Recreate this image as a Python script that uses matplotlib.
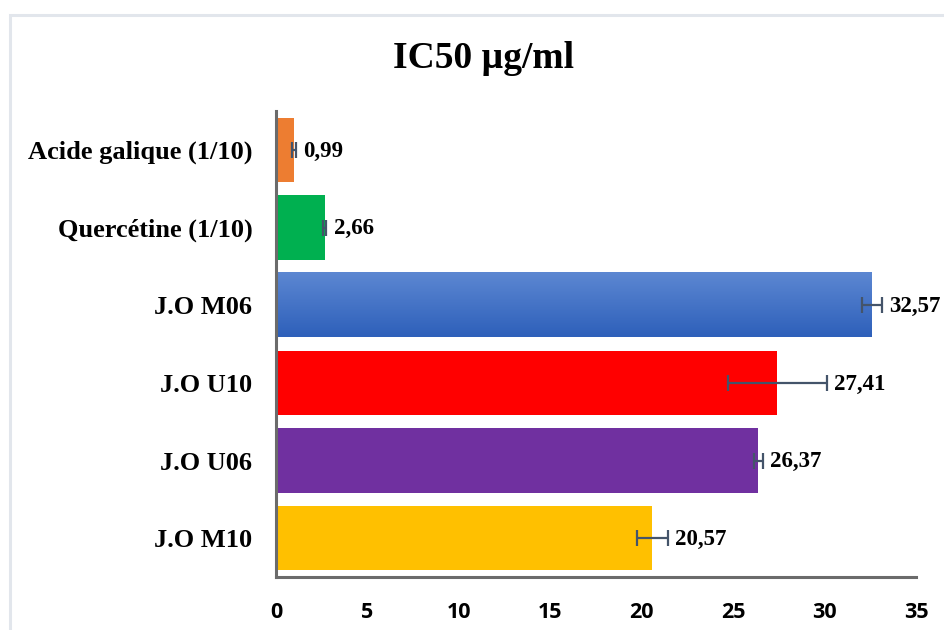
import numpy as np
import matplotlib
matplotlib.use("Agg")
import matplotlib.pyplot as plt
from matplotlib.patches import Rectangle

# --- Data (bottom to top) ---
labels = ["J.O M10", "J.O U06", "J.O U10", "J.O M06", "Quercétine (1/10)", "Acide galique (1/10)"]
values = [20.57, 26.37, 27.41, 32.57, 2.66, 0.99]
errors = [0.85, 0.25, 2.7, 0.55, 0.1, 0.1]
value_text = ["20,57", "26,37", "27,41", "32,57", "2,66", "0,99"]
colors = ["#FFC000", "#7030A0", "#FF0000", "#4472C4", "#00B050", "#ED7D31"]
xticks = [0, 5, 10, 15, 20, 25, 30, 35]

serif = "Liberation Serif"
sans = "Open Sans"

fig = plt.figure(figsize=(9.44, 6.30), dpi=100)
ax = fig.add_axes([276 / 944, 1 - 577 / 630, 640 / 944, 466 / 630])

y = np.arange(len(labels))
bars = ax.barh(y, values, height=0.83, color=colors, zorder=2)

# gradient on the blue bar
blue = bars[3]
bx, by, bw, bh = blue.get_x(), blue.get_y(), blue.get_width(), blue.get_height()
grad = np.linspace(0, 1, 100).reshape(-1, 1)
cmap = matplotlib.colors.LinearSegmentedColormap.from_list("bl", ["#2E60BA", "#5C87D2"])
ax.imshow(grad, extent=(bx, bx + bw, by, by + bh), origin="lower", aspect="auto",
          cmap=cmap, zorder=2.5)
blue.set_facecolor("none")

ax.errorbar(values, y, xerr=errors, fmt="none", ecolor="#44546A", elinewidth=1.6,
            capsize=6, capthick=1.6, zorder=3)

for yi, v, e, t in zip(y, values, errors, value_text):
    ax.annotate(t, xy=(v + e, yi), xytext=(5.5, -1), textcoords="offset points",
                va="center", ha="left", fontsize=16.5, fontweight="bold",
                family=serif, color="black")

ax.set_xlim(0, 35)
ax.set_ylim(-0.5, len(labels) - 0.5)
ax.set_xticks(xticks)
ax.set_xticklabels([str(t) for t in xticks], fontsize=15.5, fontweight="bold", family=sans)
ax.set_yticks(y)
ax.set_yticklabels(labels, fontsize=19, fontweight="bold", family=serif)
ax.tick_params(length=0)
ax.tick_params(axis="y", pad=17)
ax.tick_params(axis="x", pad=18)

for s in ("top", "right"):
    ax.spines[s].set_visible(False)
for s in ("left", "bottom"):
    ax.spines[s].set_color("#6b6b6b")
    ax.spines[s].set_linewidth(2.2)

fig.text(484 / 944, 1 - 58 / 630, "IC50 µg/ml", ha="center", va="center",
         fontsize=27, fontweight="bold", family=serif)

# light border around the chart area
fig.patches.append(Rectangle((10 / 944, -0.01), 1.0, 1 - 15 / 630 + 0.01,
                             transform=fig.transFigure, fill=False,
                             edgecolor="#e2e6ec", linewidth=2.2))

fig.savefig("out.png", dpi=100)
